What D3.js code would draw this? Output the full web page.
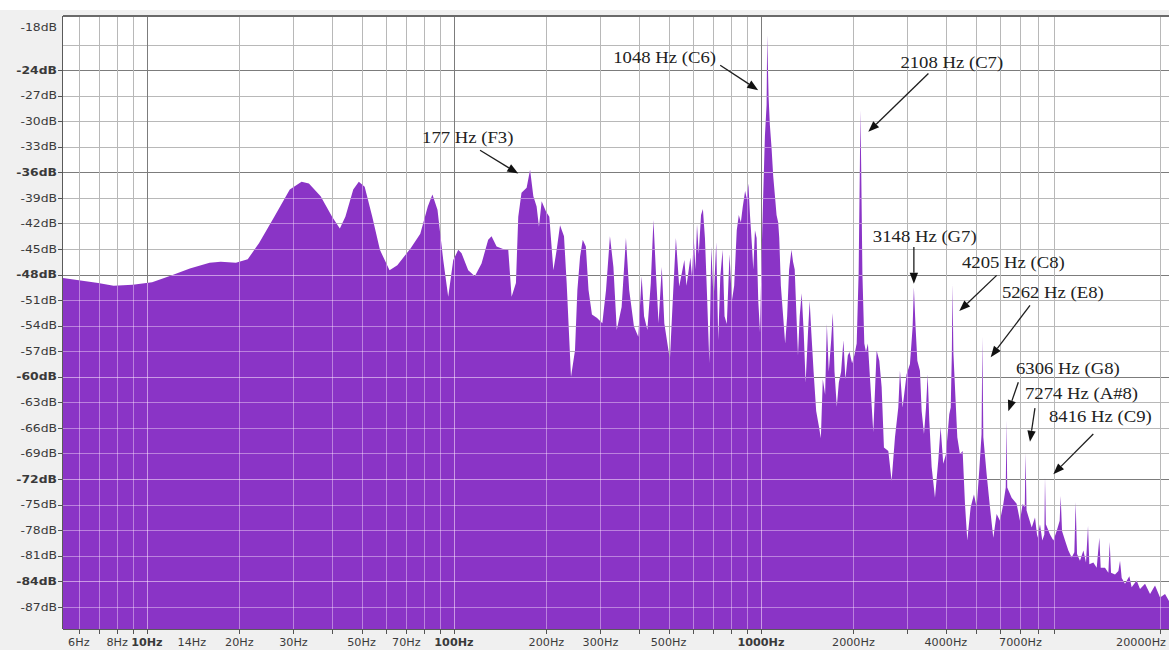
<!DOCTYPE html>
<html>
<head>
<meta charset="utf-8">
<script src="https://cdn.jsdelivr.net/npm/d3@7"></script>
<style>
  body { margin: 0; background: #ffffff; }
  svg { display: block; }
</style>
</head>
<body>
<svg id="chart" width="1169" height="650"></svg>
<script>
// Spectrum samples: frequency (Hz) and level (dB)
const freqHz = [
  5.33, 6.94, 7.79, 8.99, 10.4, 12.0, 13.8, 16.0, 17.4, 19.5, 21.3, 23.2, 26.0, 29.2, 31.9, 33.7,
  36.8, 40.1, 42.5, 44.3, 47.0, 49.0, 51.2, 54.2, 57.4, 61.7, 65.4, 72.3, 77.7, 82.2, 85.1, 88.4,
  92.3, 95.8, 99.5, 103.3, 105.9, 111.3, 117.0, 123.0, 129.3, 132.6, 137.7, 146.6, 150.3, 154.1,
  159.2, 162.0, 166.0, 172.5, 177, 181.4, 185.9, 189.2, 193.1, 199.4, 204.5, 210.8, 216.1, 221.6,
  228.3, 232.9, 240.6, 247.9, 252.4, 257.5, 262.8, 268.9, 274.4, 281.5, 292.6, 304.3, 312.9, 322.2,
  330.7, 339.1, 351.7, 363.3, 372.2, 385.8, 398.5, 408.7, 416.2, 426.6, 437.7, 446.5, 455.5, 463.9,
  475.3, 484.4, 505.1, 518.1, 528.4, 541.6, 563, 572, 582, 589, 596, 604, 612, 619, 627, 638, 647,
  657, 667, 679, 689, 701, 715, 726, 737, 750, 761, 774, 790, 804, 818, 834, 847, 860, 872, 888,
  899, 910, 921, 935, 944, 956, 968, 980, 993, 1005, 1017, 1030, 1043, 1048, 1059, 1069, 1083,
  1096, 1110, 1124, 1138, 1147, 1161, 1181, 1199, 1217, 1235, 1257, 1272, 1288, 1304, 1320, 1337,
  1357, 1378, 1398, 1423, 1441, 1459, 1484, 1513, 1544, 1567, 1590, 1618, 1639, 1663, 1693, 1714,
  1736, 1766, 1793, 1824, 1856, 1884, 1918, 1942, 1981, 2014, 2050, 2080, 2100, 2108, 2120, 2140,
  2171, 2198, 2230, 2270, 2322, 2381, 2429, 2472, 2515, 2599, 2664, 2732, 2801, 2836, 2893, 2981,
  3057, 3118, 3148, 3189, 3231, 3295, 3337, 3396, 3448, 3491, 3534, 3597, 3688, 3781, 3847, 3924,
  4004, 4105, 4150, 4185, 4205, 4235, 4360, 4448, 4538, 4618, 4699, 4819, 4940, 5041, 5140, 5230,
  5262, 5300, 5432, 5570, 5711, 5856, 6005, 6158, 6270, 6306, 6340, 6554, 6803, 6976, 7119, 7230,
  7274, 7330, 7618, 7808, 7950, 8105, 8248, 8375, 8416, 8470, 8740, 8962, 9187, 9395, 9466, 9563,
  9782, 10028, 10281, 10488, 10592, 10702, 10941, 11226, 11446, 11621, 11737, 12093, 12404, 12650,
  12780, 13200, 13537, 13673, 13809, 14230, 14592, 14774, 14961, 15337, 15842, 16120, 16735, 17163,
  17823, 18503, 19208, 19946, 20704, 21330
];
const levelDb = [
  -48.4, -49.0, -49.3, -49.2, -48.9, -48.1, -47.3, -46.6, -46.5, -46.6, -46.2, -44.3, -41.2, -38.0, -37.1, -37.3,
  -38.8, -41.2, -42.6, -41.2, -38.0, -37.1, -37.7, -41.2, -45.1, -47.5, -46.9, -44.9, -43.2, -40.0, -38.6, -40.4,
  -46.3, -50.6, -46.3, -45.1, -45.5, -47.5, -48.2, -46.7, -43.9, -43.5, -44.7, -45.1, -45.1, -50.6,
  -49.0, -41.2, -38.4, -37.8, -35.7, -38.8, -40.0, -42.4, -39.4, -40.6, -41.2, -47.5, -45.1, -42.2,
  -43.5, -49.0, -60.0, -56.9, -49.8, -45.9, -43.9, -44.7, -49.8, -52.7, -53.1, -53.7, -49.8, -43.5,
  -47.1, -54.5, -51.8, -43.7, -49.8, -54.1, -55.3, -48.2, -52.9, -54.5, -49.0, -41.6, -48.2, -53.7,
  -47.1, -53.7, -58.0, -49.8, -43.7, -49.4, -46.3, -49.3, -47.4, -46.0, -48.3, -43.7, -47.4, -42.1, -45.6, -41.0, -40.3,
  -43.7, -50.2, -58.4, -44.7, -51.1, -44.2, -55.7, -48.3, -45.1, -52.9, -53.8, -45.6, -51.1, -49.3, -42.8, -41.0, -41.9, -40.1, -38.2,
  -39.1, -37.3, -41.0, -44.7, -47.4, -42.8, -43.7, -51.1, -54.8, -45.6, -38.7, -31.8, -28.1, -19.9, -27.2, -30.4, -33.2,
  -36.4, -38.7, -41.0, -41.9, -43.7, -49.3, -52.9, -56.1, -52.9, -47.4, -45.1, -46.5, -47.4, -52.5, -57.5, -52.9,
  -50.2, -54.8, -60.7, -54.8, -51.1, -54.8, -59.4, -64.0, -65.8, -67.2, -60.3, -62.1, -53.8, -59.4, -55.7, -52.5,
  -59.4, -63.5, -60.7, -59.4, -55.7, -60.3, -57.5, -57.1, -58.4, -57.5, -56.1, -47.9, -35.0, -28.7, -35.0, -47.9,
  -56.1, -57.1, -56.1, -60.7, -66.5, -56.9, -58.1, -61.2, -68.3, -68.7, -72.2, -67.1, -63.6, -59.3, -63.6, -59.7,
  -58.5, -54.2, -49.5, -54.2, -58.1, -59.3, -64.0, -66.7, -63.6, -59.7, -65.1, -70.6, -74.2, -69.8, -65.9, -70.2,
  -69.1, -64.4, -63.6, -57.3, -49.1, -57.3, -67.1, -69.1, -68.7, -74.9, -79.2, -75.3, -73.8, -75.3, -71.0, -66.7,
  -55.3, -67.1, -71.4, -75.3, -78.9, -76.1, -76.9, -74.9, -73.0, -65.1, -73.0, -74.2, -74.9, -76.9, -74.9, -75.3,
  -68.9, -75.7, -77.7, -76.5, -78.9, -77.3, -79.2, -78.5, -71.8, -77.3, -78.5, -79.2, -78.1, -76.9, -74.0, -78.1,
  -79.2, -80.4, -81.2, -80.6, -74.7, -80.8, -81.6, -80.4, -81.8, -77.5, -82.0, -81.8, -82.4, -78.9,
  -82.4, -82.4, -83.0, -79.4, -83.0, -83.2, -82.8, -81.6, -83.6, -84.3, -83.4, -84.7, -83.9, -84.9,
  -84.3, -85.5, -84.5, -85.9, -85.5, -86.3
];

// Axis ticks and labels
const dbGrid = [-21, -24, -27, -30, -33, -36, -39, -42, -45, -48, -51, -54, -57, -60, -63, -66, -69, -72, -75, -78, -81, -84, -87];
const dbLabels = [-18, -24, -27, -30, -33, -36, -39, -42, -45, -48, -51, -54, -57, -60, -63, -66, -69, -72, -75, -78, -81, -84, -87];
const hzGrid = [6, 7, 8, 9, 10, 20, 30, 40, 50, 60, 70, 80, 90, 100, 200, 300, 400, 500, 600, 700, 800, 900,
                1000, 2000, 3000, 4000, 5000, 6000, 7000, 8000, 9000, 20000];
const hzLabels = [6, 8, 10, 14, 20, 30, 50, 70, 100, 200, 300, 500, 1000, 2000, 4000, 7000, 20000];
const hzBold = [10, 100, 1000];

// Annotated harmonics
const peakHz = [177, 1048, 2108, 3148, 4205, 5262, 6306, 7274, 8416];
const peakNote = ["F3", "C6", "C7", "G7", "C8", "E8", "G8", "A#8", "C9"];
// callout layout, pixels relative to the peak point: [label left, label middle], [arrow tail], [arrow tip]
const calloutLabel = [[-108, -32], [-154, 22], [40, -48], [-41, -51], [9.5, -21.6], [19.6, -44.3], [9.5, -51.7], [-0.6, -59], [4, -60.7]];
const calloutTail  = [[-50, -19.5], [-47, 30], [68, -36.7], [0, -40.3], [44.2, -8.6], [47.6, -31.3], [11.8, -38], [9.4, -44.5], [48.3, -43.4]];
const calloutTip   = [[-11.8, 3.8], [-9, 55], [7.9, 21.7], [0, -3.7], [6.8, 27.1], [8.3, 20.4], [1.8, -9], [4.4, -11], [8.3, -3.2]];

const W = 1169, H = 650;
const plot = { left: 63, top: 16, right: 1169, bottom: 629 };

const x = d3.scaleLog().domain([5.33, 21330]).range([plot.left, plot.right]);
const y = d3.scaleLinear().domain([-17.65, -89.6]).range([plot.top, plot.bottom]);

const svg = d3.select("#chart");

// panel backgrounds
svg.append("rect").attr("x", 0).attr("y", 0).attr("width", W).attr("height", H).attr("fill", "#ffffff");
svg.append("rect").attr("x", 0).attr("y", 10).attr("width", W).attr("height", H - 10).attr("fill", "#f0f0f0");
svg.append("rect").attr("x", plot.left).attr("y", plot.top)
  .attr("width", plot.right - plot.left).attr("height", plot.bottom - plot.top).attr("fill", "#ffffff");

function drawGrid(g, minor, major, width) {
  g.selectAll("line.h").data(dbGrid).join("line").attr("class", "h")
    .attr("x1", plot.left).attr("x2", plot.right)
    .attr("y1", d => Math.round(y(d)) + 0.5).attr("y2", d => Math.round(y(d)) + 0.5)
    .attr("stroke", d => d % 12 === 0 ? major : minor).attr("stroke-width", width);
  g.selectAll("line.v").data(hzGrid).join("line").attr("class", "v")
    .attr("y1", plot.top).attr("y2", plot.bottom)
    .attr("x1", d => Math.round(x(d)) + 0.5).attr("x2", d => Math.round(x(d)) + 0.5)
    .attr("stroke", d => hzBold.includes(d) ? major : minor).attr("stroke-width", width);
}

// grid on the white background
drawGrid(svg.append("g"), "#b8b8b8", "#7c7c7c", 1);

// spectrum area
const pts = freqHz.map((f, i) => [f, levelDb[i]]);
const area = d3.area().x(d => x(d[0])).y0(plot.bottom).y1(d => y(d[1]));
const areaPath = area(pts);

svg.append("path").attr("d", areaPath).attr("fill", "#8a34c6");

// grid seen through the filled spectrum
svg.append("clipPath").attr("id", "specClip").append("path").attr("d", areaPath);
drawGrid(svg.append("g").attr("clip-path", "url(#specClip)"), "rgba(255,235,255,0.42)", "rgba(255,235,255,0.55)", 1);

// frame
svg.append("line").attr("x1", plot.left).attr("x2", plot.right).attr("y1", plot.top).attr("y2", plot.top)
  .attr("stroke", "#6a6a6a").attr("stroke-width", 2);
svg.append("line").attr("x1", plot.left - 0.5).attr("x2", plot.left - 0.5).attr("y1", plot.top).attr("y2", plot.bottom)
  .attr("stroke", "#5a5a5a").attr("stroke-width", 1);
svg.append("line").attr("x1", plot.left).attr("x2", plot.right).attr("y1", plot.bottom + 0.5).attr("y2", plot.bottom + 0.5)
  .attr("stroke", "#5a5a5a").attr("stroke-width", 1);

// y axis
const yAxis = svg.append("g");
dbLabels.forEach(d => {
  const ty = y(d);
  if (d !== -18) {
    yAxis.append("line").attr("x1", plot.left - 5).attr("x2", plot.left).attr("y1", Math.round(ty) + 0.5).attr("y2", Math.round(ty) + 0.5)
      .attr("stroke", "#555").attr("stroke-width", 1);
  }
  const ly = Math.max(ty, plot.top + 11);
  yAxis.append("text")
    .attr("transform", `translate(${plot.left - 6},${ly}) scale(1.18,1)`)
    .attr("text-anchor", "end").attr("dominant-baseline", "central")
    .attr("font-family", "'DejaVu Sans', sans-serif").attr("font-size", 10.5)
    .attr("font-weight", d % 12 === 0 ? "bold" : "normal")
    .attr("fill", "#3a3a3a")
    .text(`${d}dB`);
});

// x axis
const xAxis = svg.append("g");
hzGrid.forEach(d => {
  xAxis.append("line").attr("x1", Math.round(x(d)) + 0.5).attr("x2", Math.round(x(d)) + 0.5)
    .attr("y1", plot.bottom).attr("y2", plot.bottom + 5).attr("stroke", "#555").attr("stroke-width", 1);
});
hzLabels.forEach(d => {
  const t = xAxis.append("text")
    .attr("font-family", "'DejaVu Sans', sans-serif").attr("font-size", 10)
    .attr("font-weight", hzBold.includes(d) ? "bold" : "normal")
    .attr("fill", "#3a3a3a").attr("text-anchor", "middle").attr("dominant-baseline", "central")
    .text(`${d}Hz`);
  const sx = 1.12;
  const w = t.node().getComputedTextLength() * sx;
  let cx = x(d);
  if (cx + w / 2 > W - 3) cx = W - 3 - w / 2;
  t.attr("transform", `translate(${cx},${plot.bottom + 14}) scale(${sx},1)`);
});

// callouts
const ann = svg.append("g");
peakHz.forEach((hz, i) => {
  const k = freqHz.indexOf(hz);
  const px = x(hz), py = y(levelDb[k]);
  const tip = [px + calloutTip[i][0], py + calloutTip[i][1]];
  const tail = [px + calloutTail[i][0], py + calloutTail[i][1]];
  const ang = Math.atan2(tip[1] - tail[1], tip[0] - tail[0]);
  const len = 11, half = 4.2;
  const base = [tip[0] - len * Math.cos(ang), tip[1] - len * Math.sin(ang)];
  ann.append("line").attr("x1", tail[0]).attr("y1", tail[1]).attr("x2", base[0]).attr("y2", base[1])
    .attr("stroke", "#1e1e1e").attr("stroke-width", 1.3);
  const p1 = [base[0] + half * Math.sin(ang), base[1] - half * Math.cos(ang)];
  const p2 = [base[0] - half * Math.sin(ang), base[1] + half * Math.cos(ang)];
  ann.append("path").attr("d", `M${tip[0]},${tip[1]}L${p1[0]},${p1[1]}L${p2[0]},${p2[1]}Z`).attr("fill", "#111");
  ann.append("text")
    .attr("transform", `translate(${px + calloutLabel[i][0]},${py + calloutLabel[i][1]}) scale(1.1,1)`)
    .attr("dominant-baseline", "central")
    .attr("font-family", "'Liberation Serif', 'Times New Roman', serif").attr("font-size", 17)
    .attr("fill", "#222")
    .text(`${hz} Hz (${peakNote[i]})`);
});
</script>
</body>
</html>
